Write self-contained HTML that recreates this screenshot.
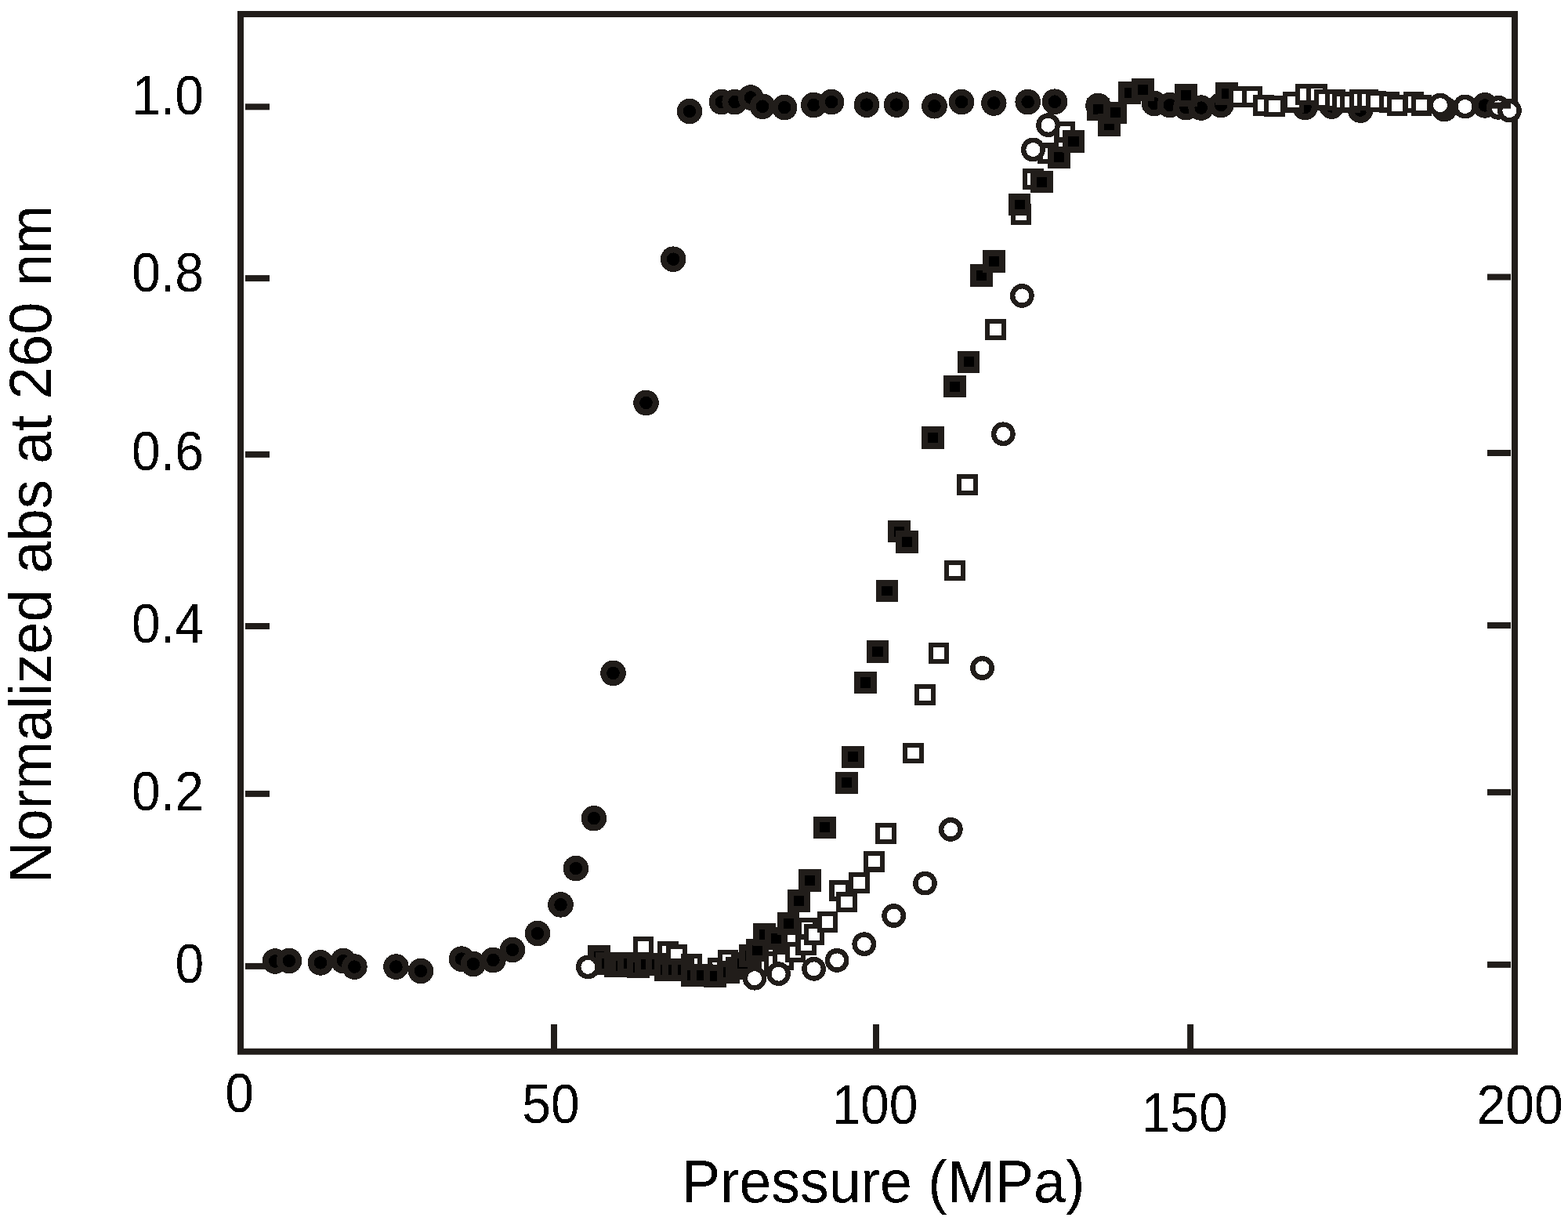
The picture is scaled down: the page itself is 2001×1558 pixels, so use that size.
<!DOCTYPE html>
<html><head><meta charset="utf-8"><title>Normalized abs at 260 nm vs Pressure (MPa)</title>
<style>html,body{margin:0;padding:0;background:#fff;width:2001px;height:1558px;overflow:hidden}svg{display:block}</style>
</head><body>
<svg width="2001" height="1558" viewBox="0 0 2001 1558">
<defs>
<circle id="fc" r="12.3" fill="#000" stroke="#211d1a" stroke-width="8"/>
<circle id="oc" r="12.2" fill="#fff" stroke="#211d1a" stroke-width="6.4"/>
<rect id="fs" x="-10.425" y="-10.425" width="20.85" height="20.85" fill="#000" stroke="#211d1a" stroke-width="7.85"/>
<rect id="os" x="-10.35" y="-10.35" width="20.7" height="20.7" fill="#fff" stroke="#211d1a" stroke-width="6.1"/>
<filter id="al" x="0" y="0" width="1" height="1" color-interpolation-filters="sRGB"><feComponentTransfer><feFuncA type="discrete" tableValues="0 1"/></feComponentTransfer></filter>
</defs>
<rect width="2001" height="1558" fill="#fff"/>
<rect x="307" y="18" width="1626" height="1323.8" fill="none" stroke="#211d1a" stroke-width="8"/>
<g shape-rendering="crispEdges"><use href="#fc" x="351" y="1226.5"/>
<use href="#fc" x="369" y="1226"/>
<use href="#fc" x="409" y="1228.4"/>
<use href="#fc" x="438" y="1226"/>
<use href="#fc" x="452.4" y="1233.6"/>
<use href="#fc" x="505.4" y="1233.6"/>
<use href="#fc" x="537" y="1239"/>
<use href="#fc" x="589" y="1223.6"/>
<use href="#fc" x="604" y="1230"/>
<use href="#fc" x="629.4" y="1225"/>
<use href="#fc" x="654" y="1212"/>
<use href="#fc" x="686" y="1191"/>
<use href="#fc" x="715.5" y="1154.4"/>
<use href="#fc" x="734.9" y="1108.1"/>
<use href="#fc" x="757.9" y="1044.2"/>
<use href="#fc" x="782.5" y="858.9"/>
<use href="#fc" x="824.5" y="514"/>
<use href="#fc" x="859.2" y="330.7"/>
<use href="#fc" x="880" y="142"/>
<use href="#fc" x="920.9" y="130.1"/>
<use href="#fc" x="937.7" y="130.1"/>
<use href="#fc" x="958" y="124.5"/>
<use href="#fc" x="973.1" y="135.7"/>
<use href="#fc" x="1001.1" y="137.1"/>
<use href="#fc" x="1038.4" y="134"/>
<use href="#fc" x="1061.1" y="130.1"/>
<use href="#fc" x="1106" y="133.6"/>
<use href="#fc" x="1144.1" y="133.6"/>
<use href="#fc" x="1192.5" y="135.3"/>
<use href="#fc" x="1227.1" y="130.1"/>
<use href="#fc" x="1268.3" y="131.5"/>
<use href="#fc" x="1311.7" y="130.1"/>
<use href="#fc" x="1346" y="129.7"/>
<use href="#fc" x="1401.5" y="135"/>
<use href="#fc" x="1472.9" y="132"/>
<use href="#fc" x="1492.9" y="134.1"/>
<use href="#fc" x="1513.4" y="137.2"/>
<use href="#fc" x="1532.7" y="137.6"/>
<use href="#fc" x="1558.2" y="134.1"/>
<use href="#fc" x="1665.5" y="136.9"/>
<use href="#fc" x="1699.5" y="135.5"/>
<use href="#fc" x="1736.1" y="140.6"/>
<use href="#fc" x="1843.3" y="139"/>
<use href="#fc" x="1895" y="134.4"/>
<use href="#fs" x="1401.5" y="139.3"/>
<use href="#fs" x="1415.5" y="159.4"/>
<use href="#fs" x="1423.5" y="143.9"/>
<use href="#fs" x="1441.4" y="118.3"/>
<use href="#fs" x="1458.4" y="114.3"/>
<use href="#fs" x="1513.6" y="121.3"/>
<use href="#fs" x="1565.4" y="119.5"/>
<use href="#os" x="821" y="1208.2"/>
<use href="#os" x="852.5" y="1214.6"/>
<use href="#os" x="863.2" y="1218.2"/>
<use href="#os" x="882.4" y="1230.5"/>
<use href="#os" x="916.7" y="1235.5"/>
<use href="#os" x="928.9" y="1225.7"/>
<use href="#os" x="979.1" y="1231"/>
<use href="#os" x="988.1" y="1226.9"/>
<use href="#os" x="999.2" y="1224.9"/>
<use href="#os" x="1012.1" y="1200"/>
<use href="#os" x="1015.1" y="1215"/>
<use href="#os" x="1028.8" y="1205.9"/>
<use href="#os" x="1030.1" y="1184.5"/>
<use href="#os" x="1039.1" y="1192.3"/>
<use href="#os" x="1055.9" y="1176.3"/>
<use href="#os" x="1071.8" y="1136.6"/>
<use href="#os" x="1080.4" y="1151.1"/>
<use href="#os" x="1096.4" y="1126.3"/>
<use href="#os" x="1115.6" y="1099.2"/>
<use href="#os" x="1130.5" y="1063.4"/>
<use href="#os" x="1165.5" y="960.9"/>
<use href="#os" x="1180.4" y="886.4"/>
<use href="#os" x="1198" y="833.4"/>
<use href="#os" x="1218.4" y="727.9"/>
<use href="#os" x="1234.5" y="618.3"/>
<use href="#os" x="1270.5" y="420.5"/>
<use href="#os" x="1303" y="273.4"/>
<use href="#os" x="1318.5" y="228.5"/>
<use href="#os" x="1337.8" y="195.9"/>
<use href="#os" x="1358.8" y="168.1"/>
<use href="#os" x="1581.1" y="123.2"/>
<use href="#os" x="1598.1" y="123.2"/>
<use href="#os" x="1612.2" y="134.3"/>
<use href="#os" x="1626.3" y="135.2"/>
<use href="#os" x="1650.3" y="130.1"/>
<use href="#os" x="1666.2" y="120.2"/>
<use href="#os" x="1680.3" y="120.2"/>
<use href="#os" x="1690.1" y="127.1"/>
<use href="#os" x="1704.1" y="127.3"/>
<use href="#os" x="1713.1" y="130.1"/>
<use href="#os" x="1723.1" y="130.1"/>
<use href="#os" x="1735.3" y="127.3"/>
<use href="#os" x="1745.2" y="127.3"/>
<use href="#os" x="1756.1" y="129.3"/>
<use href="#os" x="1773" y="130.1"/>
<use href="#os" x="1783.1" y="134.2"/>
<use href="#os" x="1804.1" y="130.3"/>
<use href="#os" x="1814.1" y="134.1"/>
<use href="#fs" x="764.5" y="1220.5"/>
<use href="#fs" x="774.4" y="1229.3"/>
<use href="#fs" x="785.5" y="1232.3"/>
<use href="#fs" x="792.5" y="1232.5"/>
<use href="#fs" x="802.4" y="1229"/>
<use href="#fs" x="814.3" y="1234"/>
<use href="#fs" x="824.6" y="1230.6"/>
<use href="#fs" x="838.6" y="1230.6"/>
<use href="#fs" x="849.7" y="1237.5"/>
<use href="#fs" x="859.6" y="1237.5"/>
<use href="#fs" x="871.5" y="1237.5"/>
<use href="#fs" x="883.4" y="1244.2"/>
<use href="#fs" x="895.4" y="1244"/>
<use href="#fs" x="912.5" y="1245.3"/>
<use href="#fs" x="929.8" y="1240.2"/>
<use href="#fs" x="940.4" y="1235.4"/>
<use href="#fs" x="947.8" y="1229"/>
<use href="#fs" x="957.6" y="1219.8"/>
<use href="#fs" x="966.5" y="1212.8"/>
<use href="#fs" x="975.6" y="1192.5"/>
<use href="#fs" x="990.4" y="1197.4"/>
<use href="#fs" x="1006" y="1178.8"/>
<use href="#fs" x="1019.4" y="1149.3"/>
<use href="#fs" x="1033.5" y="1123.4"/>
<use href="#fs" x="1052.6" y="1055.9"/>
<use href="#fs" x="1080.5" y="998.9"/>
<use href="#fs" x="1088.5" y="965.9"/>
<use href="#fs" x="1104.4" y="871"/>
<use href="#fs" x="1120" y="831.3"/>
<use href="#fs" x="1132" y="754"/>
<use href="#fs" x="1147.4" y="678"/>
<use href="#fs" x="1157.4" y="691.3"/>
<use href="#fs" x="1190.4" y="558.4"/>
<use href="#fs" x="1218.5" y="493"/>
<use href="#fs" x="1236" y="461.9"/>
<use href="#fs" x="1252.8" y="351.5"/>
<use href="#fs" x="1268.4" y="333.7"/>
<use href="#fs" x="1301" y="261"/>
<use href="#fs" x="1329.2" y="232.1"/>
<use href="#fs" x="1351.5" y="200.9"/>
<use href="#fs" x="1370" y="180.2"/>
<use href="#oc" x="750.4" y="1233.9"/>
<use href="#oc" x="963" y="1248.2"/>
<use href="#oc" x="993.6" y="1242.7"/>
<use href="#oc" x="1038.6" y="1236.3"/>
<use href="#oc" x="1068.1" y="1225.4"/>
<use href="#oc" x="1102.8" y="1204.7"/>
<use href="#oc" x="1140.7" y="1168.5"/>
<use href="#oc" x="1180.5" y="1127.1"/>
<use href="#oc" x="1213.3" y="1058.4"/>
<use href="#oc" x="1253.5" y="852.4"/>
<use href="#oc" x="1280.3" y="553.8"/>
<use href="#oc" x="1304.3" y="377.4"/>
<use href="#oc" x="1318.4" y="191"/>
<use href="#oc" x="1337.6" y="159.7"/>
<use href="#oc" x="1838" y="134.1"/>
<use href="#oc" x="1869.6" y="136"/>
<use href="#oc" x="1912.4" y="137.3"/>
<use href="#oc" x="1926.4" y="141.1"/></g>
<g fill="#211d1a"><rect x="313" y="132.3" width="31" height="8"/><rect x="313" y="351.1" width="31" height="8"/><rect x="313" y="575.9" width="31" height="8"/><rect x="313" y="795" width="31" height="8"/><rect x="313" y="1008.9" width="31" height="8"/><rect x="313" y="1228.9" width="31" height="8"/><rect x="1898" y="130.6" width="30" height="8"/><rect x="1898" y="349.5" width="30" height="8"/><rect x="1898" y="574" width="30" height="8"/><rect x="1898" y="794" width="30" height="8"/><rect x="1898" y="1006.9" width="30" height="8"/><rect x="1898" y="1226.9" width="30" height="8"/><rect x="703" y="1307" width="8" height="31"/><rect x="1114" y="1307" width="8" height="31"/><rect x="1515.1" y="1307" width="8" height="31"/></g>
<g filter="url(#al)">
<g font-family="Liberation Sans, Arial, sans-serif" fill="#000" font-size="69.5"><text transform="translate(168.3 146.4) scale(0.95 1)">1.0</text><text transform="translate(168.3 371.7) scale(0.95 1)">0.8</text><text transform="translate(168.1 599.9) scale(0.95 1)">0.6</text><text transform="translate(168.1 819.9) scale(0.95 1)">0.4</text><text transform="translate(168.1 1033.8) scale(0.95 1)">0.2</text><text transform="translate(223.5 1253.8) scale(0.95 1)">0</text><text transform="translate(287.3 1419.2) scale(0.95 1)">0</text><text transform="translate(666.2 1433.3) scale(0.95 1)">50</text><text transform="translate(1061.4 1434) scale(0.95 1)">100</text><text transform="translate(1456.5 1443.8) scale(0.95 1)">150</text><text transform="translate(1884.5 1434) scale(0.95 1)">200</text></g>
<g font-family="Liberation Sans, Arial, sans-serif" fill="#000">
<text transform="translate(869.9 1534) scale(0.967 1)" font-size="76">Pressure (MPa)</text>
<text transform="translate(65 1127) rotate(-90) scale(0.97 1)" font-size="76.4">Normalized abs at 260 nm</text>
</g>
</g>
</svg>
</body></html>
